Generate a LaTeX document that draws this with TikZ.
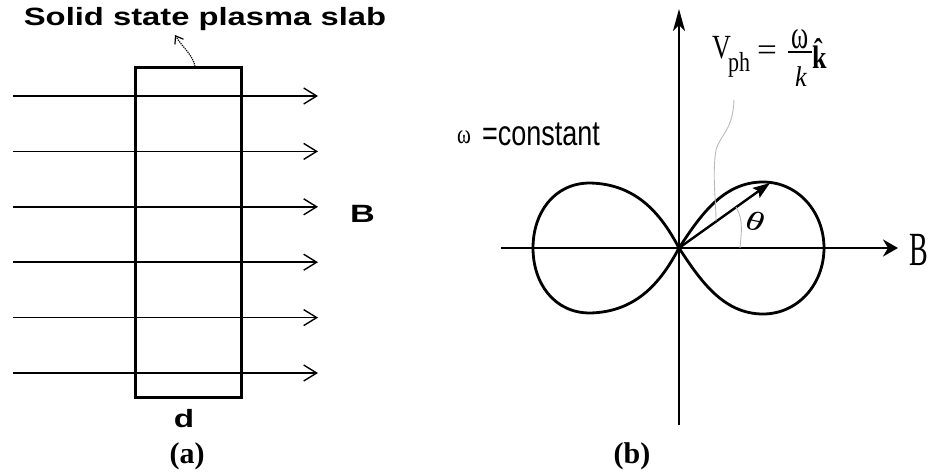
\documentclass[tikz,border=0pt]{standalone}
\usepackage{fontspec}
\usepackage{amsmath}
\setmainfont{Liberation Serif}
\newfontfamily\arialf{Liberation Sans}
\usetikzlibrary{arrows.meta}
\begin{document}
\begin{tikzpicture}[x=1pt,y=-1pt,
  lbl/.style={inner sep=0pt,outer sep=0pt},
  fieldline/.style={line width=1.5pt,-{Straight Barb[length=13pt,width=16pt,line width=1.4pt]}},
  axisline/.style={line width=2.3pt},
  lobeline/.style={line width=2.8pt},
  ptrline/.style={gray!55,line width=0.9pt},
  slabbox/.style={draw,line width=2.2pt,minimum width=106pt,minimum height=330pt,inner sep=0pt}]
\useasboundingbox (0,0) rectangle (929,474);

% ---------- panel (a) ----------
\node[lbl,anchor=base] (title) at (205,25) {\arialf\bfseries\fontsize{25}{25}\selectfont\scalebox{1.31}[1]{Solid state plasma slab}};
\foreach \i/\y in {1/96,2/151.4,3/206.8,4/262.2,5/317.6,6/373}{
  \coordinate (fs\i) at (13,\y);
  \coordinate (fe\i) at (318,\y);
  \draw[fieldline] (fs\i) -- (fe\i);
}
\node[slabbox] (slab) at (188.5,232.5) {};
\coordinate (ptrstart) at (195,66.5);
\coordinate (ptrend) at (175,35);
\draw[line width=1.2pt,densely dotted,-{Straight Barb[length=7pt,width=10pt,line width=1.2pt]}] (ptrstart) .. controls (193,55) and (183,48) .. (ptrend);
\node[lbl,anchor=base] (Bleft) at (362.5,222) {\arialf\bfseries\fontsize{25}{25}\selectfont\scalebox{1.37}[1]{B}};
\node[lbl,anchor=base] (dlabel) at (184,427) {\arialf\bfseries\fontsize{25}{25}\selectfont\scalebox{1.33}[1]{d}};
\node[lbl,anchor=base] (capa) at (187,463) {\bfseries\fontsize{30}{30}\selectfont (a)};

% ---------- panel (b) ----------
\coordinate (O) at (679,248);
\coordinate (vbot) at (679,425);
\coordinate (vtop) at (679,9);
\coordinate (hleft) at (501,248);
\coordinate (hright) at (898,248);
\draw[axisline,-{Stealth[length=22pt,width=12pt,inset=6pt]}] (vbot) -- (vtop);
\draw[axisline,-{Stealth[length=15pt,width=17pt,inset=5pt]}] (hleft) -- (hright);
\draw[lobeline] (O) .. controls (700,216) and (723,182) .. (763,182)
  .. controls (798,182) and (824,212) .. (824,248)
  .. controls (824,284) and (798,314) .. (763,314)
  .. controls (723,314) and (700,280) .. (O);
\draw[lobeline] (O) .. controls (662,216) and (638,184) .. (590,183)
  .. controls (554,183) and (533,213) .. (533,248)
  .. controls (533,283) and (554,313) .. (590,313)
  .. controls (638,312) and (662,280) .. (O);
\coordinate (vtip) at (770,183);
\draw[line width=2.4pt,-{Stealth[length=17pt,width=12pt,inset=3pt]}] (O) -- (vtip);

\node[lbl,anchor=base west] (Bright) at (909,265) {\fontsize{28}{28}\selectfont\scalebox{1}[1.7]{B}};
\node[lbl,anchor=base west] (omsmall) at (457,143) {\fontsize{21}{21}\selectfont\scalebox{1}[1.3]{ω}};
\node[lbl,anchor=base west] (const) at (482,145) {\arialf\fontsize{27}{27}\selectfont\scalebox{1}[1.3]{=constant}};

% V_ph = omega/k k-hat
\node[lbl,anchor=base west] (vV) at (712,58) {\fontsize{26}{26}\selectfont\scalebox{1}[1.3]{V}};
\node[lbl,anchor=base west] (vsub) at (728,71) {\fontsize{22}{22}\selectfont\scalebox{1}[1.25]{ph}};
\node[lbl] (veq) at (767,53) {\fontsize{32}{32}\selectfont\scalebox{1.1}[1]{=}};
\coordinate (barl) at (788,52);
\coordinate (barr) at (812,52);
\draw[line width=1.4pt] (barl) -- (barr);
\node[lbl,anchor=base] (vom) at (800,48) {\fontsize{26}{26}\selectfont\scalebox{1}[1.55]{ω}};
\node[lbl,anchor=base] (vk) at (801,86) {\fontsize{26}{26}\selectfont\scalebox{1}[1.1]{\textit{k}}};
\node[lbl,anchor=base west] (vkhat) at (812,68) {\fontsize{26}{26}\selectfont\scalebox{1}[1.25]{\textbf{\^{k}}}};

\node[lbl] (theta) at (755,221) {\fontsize{27}{27}\selectfont\rotatebox{-12}{\scalebox{1.35}[1]{\textit{θ}}}};

\coordinate (p1s) at (734,100);
\coordinate (p1e) at (716,221);
\draw[ptrline] (p1s) .. controls (733,130) and (720,135) .. (716,150) .. controls (712,175) and (716,200) .. (p1e);
\coordinate (p2s) at (736,207);
\coordinate (p2e) at (740,248);
\draw[ptrline] (p2s) .. controls (744,220) and (741,235) .. (p2e);

\node[lbl,anchor=base] (capb) at (632,463) {\bfseries\fontsize{30}{30}\selectfont (b)};
\end{tikzpicture}
\end{document}
